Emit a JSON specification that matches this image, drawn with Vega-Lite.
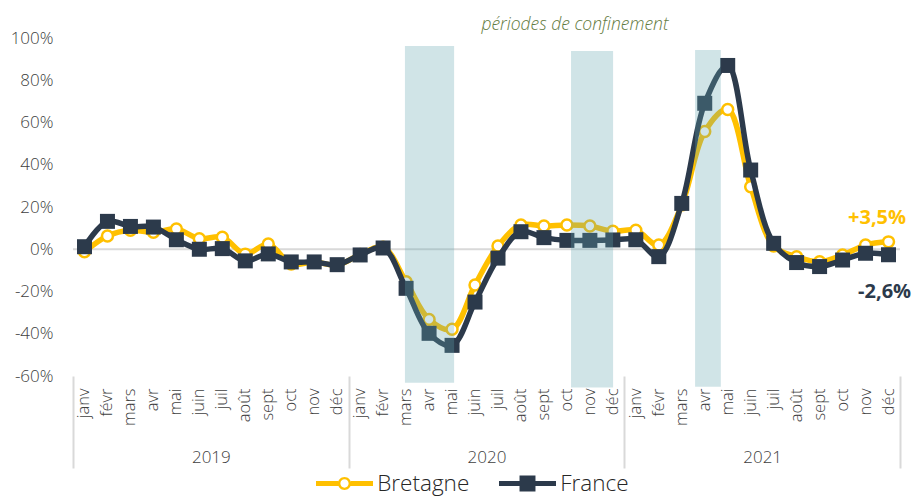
{
  "$schema": "https://vega.github.io/schema/vega-lite/v6.json",
  "width": 827,
  "height": 338,
  "autosize": {"type": "none"},
  "padding": {"left": 73, "top": 38, "right": 18, "bottom": 120},
  "background": "white",
  "config": {"view": {"stroke": null}, "font": "Open Sans"},
  "datasets": {
    "series": [
      {"i": 0, "month": "2019-01", "series": "Bretagne", "value": -1.2},
      {"i": 1, "month": "2019-02", "series": "Bretagne", "value": 6.3},
      {"i": 2, "month": "2019-03", "series": "Bretagne", "value": 9},
      {"i": 3, "month": "2019-04", "series": "Bretagne", "value": 8},
      {"i": 4, "month": "2019-05", "series": "Bretagne", "value": 9.6},
      {"i": 5, "month": "2019-06", "series": "Bretagne", "value": 5},
      {"i": 6, "month": "2019-07", "series": "Bretagne", "value": 5.7},
      {"i": 7, "month": "2019-08", "series": "Bretagne", "value": -2.3},
      {"i": 8, "month": "2019-09", "series": "Bretagne", "value": 2.5},
      {"i": 9, "month": "2019-10", "series": "Bretagne", "value": -7},
      {"i": 10, "month": "2019-11", "series": "Bretagne", "value": -6},
      {"i": 11, "month": "2019-12", "series": "Bretagne", "value": -7.5},
      {"i": 12, "month": "2020-01", "series": "Bretagne", "value": -2.5},
      {"i": 13, "month": "2020-02", "series": "Bretagne", "value": 1},
      {"i": 14, "month": "2020-03", "series": "Bretagne", "value": -15.4},
      {"i": 15, "month": "2020-04", "series": "Bretagne", "value": -33.2},
      {"i": 16, "month": "2020-05", "series": "Bretagne", "value": -37.9},
      {"i": 17, "month": "2020-06", "series": "Bretagne", "value": -16.9},
      {"i": 18, "month": "2020-07", "series": "Bretagne", "value": 1.5},
      {"i": 19, "month": "2020-08", "series": "Bretagne", "value": 11.5},
      {"i": 20, "month": "2020-09", "series": "Bretagne", "value": 11},
      {"i": 21, "month": "2020-10", "series": "Bretagne", "value": 11.5},
      {"i": 22, "month": "2020-11", "series": "Bretagne", "value": 11},
      {"i": 23, "month": "2020-12", "series": "Bretagne", "value": 8.5},
      {"i": 24, "month": "2021-01", "series": "Bretagne", "value": 9},
      {"i": 25, "month": "2021-02", "series": "Bretagne", "value": 2},
      {"i": 26, "month": "2021-03", "series": "Bretagne", "value": 21},
      {"i": 27, "month": "2021-04", "series": "Bretagne", "value": 55.7},
      {"i": 28, "month": "2021-05", "series": "Bretagne", "value": 66.2},
      {"i": 29, "month": "2021-06", "series": "Bretagne", "value": 29.6},
      {"i": 30, "month": "2021-07", "series": "Bretagne", "value": 1.5},
      {"i": 31, "month": "2021-08", "series": "Bretagne", "value": -3.5},
      {"i": 32, "month": "2021-09", "series": "Bretagne", "value": -5.9},
      {"i": 33, "month": "2021-10", "series": "Bretagne", "value": -2.7},
      {"i": 34, "month": "2021-11", "series": "Bretagne", "value": 2},
      {"i": 35, "month": "2021-12", "series": "Bretagne", "value": 3.5},
      {"i": 0, "month": "2019-01", "series": "France", "value": 1.2},
      {"i": 1, "month": "2019-02", "series": "France", "value": 13.2},
      {"i": 2, "month": "2019-03", "series": "France", "value": 10.8},
      {"i": 3, "month": "2019-04", "series": "France", "value": 10.5},
      {"i": 4, "month": "2019-05", "series": "France", "value": 4.5},
      {"i": 5, "month": "2019-06", "series": "France", "value": 0},
      {"i": 6, "month": "2019-07", "series": "France", "value": 0.3},
      {"i": 7, "month": "2019-08", "series": "France", "value": -5.5},
      {"i": 8, "month": "2019-09", "series": "France", "value": -2.2},
      {"i": 9, "month": "2019-10", "series": "France", "value": -6},
      {"i": 10, "month": "2019-11", "series": "France", "value": -6},
      {"i": 11, "month": "2019-12", "series": "France", "value": -7.3},
      {"i": 12, "month": "2020-01", "series": "France", "value": -2.7},
      {"i": 13, "month": "2020-02", "series": "France", "value": 0.6},
      {"i": 14, "month": "2020-03", "series": "France", "value": -18.5},
      {"i": 15, "month": "2020-04", "series": "France", "value": -39.8},
      {"i": 16, "month": "2020-05", "series": "France", "value": -45.5},
      {"i": 17, "month": "2020-06", "series": "France", "value": -25},
      {"i": 18, "month": "2020-07", "series": "France", "value": -4.2},
      {"i": 19, "month": "2020-08", "series": "France", "value": 8.3},
      {"i": 20, "month": "2020-09", "series": "France", "value": 5.5},
      {"i": 21, "month": "2020-10", "series": "France", "value": 4.2},
      {"i": 22, "month": "2020-11", "series": "France", "value": 4.2},
      {"i": 23, "month": "2020-12", "series": "France", "value": 4.4},
      {"i": 24, "month": "2021-01", "series": "France", "value": 4.5},
      {"i": 25, "month": "2021-02", "series": "France", "value": -3.5},
      {"i": 26, "month": "2021-03", "series": "France", "value": 21.7},
      {"i": 27, "month": "2021-04", "series": "France", "value": 69.1},
      {"i": 28, "month": "2021-05", "series": "France", "value": 87},
      {"i": 29, "month": "2021-06", "series": "France", "value": 37.5},
      {"i": 30, "month": "2021-07", "series": "France", "value": 2.8},
      {"i": 31, "month": "2021-08", "series": "France", "value": -6.3},
      {"i": 32, "month": "2021-09", "series": "France", "value": -8.2},
      {"i": 33, "month": "2021-10", "series": "France", "value": -5.1},
      {"i": 34, "month": "2021-11", "series": "France", "value": -1.9},
      {"i": 35, "month": "2021-12", "series": "France", "value": -2.6}
    ],
    "periods": [
      {"x0": 13.95, "x1": 16.09, "y0": 96.2, "y1": -63.2},
      {"x0": 21.18, "x1": 23.01, "y0": 93.8, "y1": -65.5},
      {"x0": 26.58, "x1": 27.7, "y0": 94.3, "y1": -65.1}
    ],
    "years": [{"year": "2019"}, {"year": "2020"}, {"year": "2021"}],
    "labels": [
      {"text": "+3,5%", "series": "Bretagne", "x": 34.5, "y": 14.8},
      {"text": "-2,6%", "series": "France", "x": 34.83, "y": -20.2},
      {"text": "périodes de confinement", "series": "note", "x": 21.35, "y": 106}
    ]
  },
  "layer": [
    {
      "data": {"name": "years"},
      "mark": {"type": "rect", "opacity": 0},
      "encoding": {
        "x": {
          "field": "year", "type": "ordinal",
          "scale": {"paddingInner": 0, "paddingOuter": 0},
          "axis": {
            "orient": "bottom", "title": null, "domain": false, "grid": false,
            "ticks": true, "tickBand": "extent", "tickSize": 92, "tickColor": "#d9d9d9", "tickWidth": 2,
            "labelPadding": -11, "labelBaseline": "middle", "labelAngle": 0,
            "labelFontSize": 17, "labelColor": "#404040", "labelFont": "Open Sans", "labelFontWeight": 300
          }
        }
      }
    },
    {
      "data": {"name": "series"},
      "transform": [{"filter": "datum.series === 'France'"}],
      "mark": {"type": "rect", "opacity": 0},
      "encoding": {
        "x": {
          "field": "month", "type": "ordinal",
          "scale": {"paddingInner": 0, "paddingOuter": 0},
          "axis": {
            "orient": "bottom", "title": null,
            "labelExpr": "['janv','févr','mars','avr','mai','juin','juil','août','sept','oct','nov','déc'][toNumber(slice(datum.value, 5)) - 1]",
            "labelAngle": -90, "labelAlign": "right", "labelBaseline": "middle",
            "ticks": false, "tickSize": 0, "domain": false, "grid": false,
            "labelPadding": 12, "labelFontSize": 16.5, "labelColor": "#404040", "labelFont": "Open Sans", "labelFontWeight": 300,
            "labelOverlap": false, "labelBound": false, "labelFlush": false
          }
        }
      }
    },
    {
      "layer": [
        {
          "data": {"values": [{"v": 0}]},
          "mark": {"type": "rule", "color": "#d9d9d9", "strokeWidth": 2},
          "encoding": {"y": {"field": "v", "type": "quantitative", "scale": {"domain": [-60, 100], "nice": false, "zero": false}}}
        },
        {
          "data": {"name": "series"},
          "transform": [{"filter": "datum.series === 'Bretagne'"}],
          "mark": {"type": "line", "interpolate": "catmull-rom", "strokeWidth": 5.5},
          "encoding": {
            "x": {
              "field": "i", "type": "quantitative",
              "scale": {"domain": [-0.5, 35.5], "nice": false, "zero": false},
              "axis": null
            },
            "y": {
              "field": "value", "type": "quantitative",
              "scale": {"domain": [-60, 100], "nice": false, "zero": false},
              "axis": {
                "title": null, "values": [-60, -40, -20, 0, 20, 40, 60, 80, 100],
                "labelExpr": "datum.value + '%'",
                "domain": false, "ticks": false, "grid": false, "labelPadding": 20,
                "labelFontSize": 17, "labelColor": "#404040", "labelFont": "Open Sans", "labelFontWeight": 300
              }
            },
            "color": {
              "field": "series", "type": "nominal",
              "scale": {"domain": ["Bretagne", "France"], "range": ["#FFC000", "#2C3A4B"]},
              "legend": {
                "title": null, "orient": "none", "legendX": 257, "legendY": 431, "direction": "horizontal",
                "labelFontSize": 22.5, "labelColor": "#262626", "labelFont": "Open Sans", "labelFontWeight": 300,
                "labelOffset": 18.25, "columnPadding": 29, "symbolSize": 812, "symbolStrokeWidth": 0,
                "encode": {
                  "symbols": {
                    "update": {
                      "shape": {"signal": "datum.value === 'Bretagne' ? 'M-2,-0.175H-0.44V0.175H-2Z M0.44,-0.175H2V0.175H0.44Z M0.456,0A0.456,0.456,0,1,1,-0.456,0A0.456,0.456,0,1,1,0.456,0Z M0.29,0A0.29,0.29,0,1,0,-0.29,0A0.29,0.29,0,1,0,0.29,0Z' : 'M-2,-0.175H2V0.175H-2Z M-0.56,-0.56H0.56V0.56H-0.56Z'"},
                      "fill": {"signal": "datum.value === 'Bretagne' ? '#FFC000' : '#2C3A4B'"},
                      "strokeWidth": {"value": 0},
                      "opacity": {"value": 1}
                    }
                  }
                }
              }
            }
          }
        },
        {
          "data": {"name": "series"},
          "transform": [{"filter": "datum.series === 'Bretagne'"}],
          "mark": {"type": "point", "shape": "circle", "filled": true, "fill": "white", "stroke": "#FFC000", "strokeWidth": 2.5, "size": 120, "opacity": 1},
          "encoding": {
            "x": {"field": "i", "type": "quantitative", "axis": null},
            "y": {"field": "value", "type": "quantitative"}
          }
        },
        {
          "data": {"name": "series"},
          "transform": [{"filter": "datum.series === 'France'"}],
          "mark": {"type": "line", "interpolate": "catmull-rom", "strokeWidth": 5.5},
          "encoding": {
            "x": {"field": "i", "type": "quantitative", "axis": null},
            "y": {"field": "value", "type": "quantitative"},
            "color": {"field": "series", "type": "nominal"}
          }
        },
        {
          "data": {"name": "series"},
          "transform": [{"filter": "datum.series === 'France'"}],
          "mark": {"type": "square", "size": 225, "color": "#2C3A4B", "opacity": 1},
          "encoding": {
            "x": {"field": "i", "type": "quantitative", "axis": null},
            "y": {"field": "value", "type": "quantitative"}
          }
        },
        {
          "data": {"name": "periods"},
          "mark": {"type": "rect", "color": "#62a5af", "opacity": 0.3},
          "encoding": {
            "x": {"field": "x0", "type": "quantitative", "axis": null},
            "x2": {"field": "x1"},
            "y": {"field": "y0", "type": "quantitative"},
            "y2": {"field": "y1"}
          }
        },
        {
          "data": {"name": "labels"},
          "transform": [{"filter": "datum.series === 'Bretagne'"}],
          "mark": {"type": "text", "color": "#FFC000", "fontSize": 20, "fontWeight": "bold", "font": "Open Sans", "align": "center", "baseline": "middle"},
          "encoding": {
            "x": {"field": "x", "type": "quantitative", "axis": null},
            "y": {"field": "y", "type": "quantitative"},
            "text": {"field": "text"}
          }
        },
        {
          "data": {"name": "labels"},
          "transform": [{"filter": "datum.series === 'France'"}],
          "mark": {"type": "text", "color": "#2C3A4B", "fontSize": 20, "fontWeight": "bold", "font": "Open Sans", "align": "center", "baseline": "middle"},
          "encoding": {
            "x": {"field": "x", "type": "quantitative", "axis": null},
            "y": {"field": "y", "type": "quantitative"},
            "text": {"field": "text"}
          }
        },
        {
          "data": {"name": "labels"},
          "transform": [{"filter": "datum.series === 'note'"}],
          "mark": {"type": "text", "color": "#627a40", "fontSize": 17.5, "fontStyle": "italic", "font": "Open Sans", "fontWeight": 300, "align": "center", "baseline": "middle"},
          "encoding": {
            "x": {"field": "x", "type": "quantitative", "axis": null},
            "y": {"field": "y", "type": "quantitative"},
            "text": {"field": "text"}
          }
        }
      ]
    }
  ],
  "resolve": {"scale": {"x": "independent"}}
}
